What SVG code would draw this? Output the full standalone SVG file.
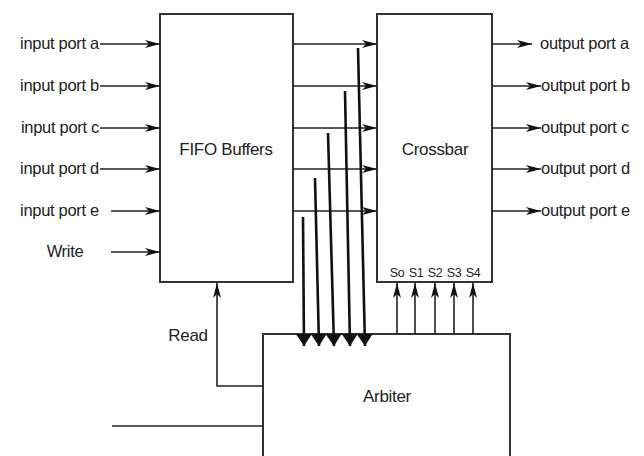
<svg xmlns="http://www.w3.org/2000/svg" width="644" height="456" viewBox="0 0 644 456">
  <style>
    .box { fill: #fff; stroke: #333; stroke-width: 2; }
    .ln { fill: none; stroke: #222; stroke-width: 1.6; }
    .bus { fill: none; stroke: #111; stroke-width: 2.6; }
    .t { font-family: "Liberation Sans", Arial, sans-serif; fill: #222; }
    .lbl { font-size: 16.5px; letter-spacing: -0.3px; }
    .big { font-size: 17px; letter-spacing: -0.3px; }
    .sm { font-size: 12.5px; letter-spacing: -0.5px; }
  </style>
  <defs>
    <marker id="arr" markerUnits="userSpaceOnUse" markerWidth="17" markerHeight="10" refX="15" refY="4.5" orient="auto" viewBox="0 0 17 9">
      <path d="M0,0.5 L15,4.5 L0,8.5 L4,4.5 z" fill="#111"/>
    </marker>
    <marker id="tri" markerUnits="userSpaceOnUse" markerWidth="12" markerHeight="16" refX="12" refY="8" orient="auto" viewBox="0 0 12 16">
      <path d="M0,0 L12,8 L0,16 z" fill="#111"/>
    </marker>
  </defs>

  <g id="arbiter">
    <rect class="box" x="263" y="334" width="247" height="140"/>
    <text class="t big" x="387" y="402" text-anchor="middle">Arbiter</text>
  </g>

  <g id="fifo">
    <rect class="box" x="160" y="14" width="133" height="268"/>
    <text class="t big" x="226" y="155" text-anchor="middle">FIFO Buffers</text>
  </g>

  <g id="crossbar">
    <rect class="box" x="377" y="14" width="115" height="268"/>
    <text class="t big" x="435" y="155" text-anchor="middle">Crossbar</text>
    <text class="t sm" x="397" y="277" text-anchor="middle">So</text>
    <text class="t sm" x="416" y="277" text-anchor="middle">S1</text>
    <text class="t sm" x="435" y="277" text-anchor="middle">S2</text>
    <text class="t sm" x="454" y="277" text-anchor="middle">S3</text>
    <text class="t sm" x="473" y="277" text-anchor="middle">S4</text>
  </g>

  <g id="inputs">
    <text class="t lbl" x="99" y="49" text-anchor="end">input port a</text>
    <text class="t lbl" x="99" y="91" text-anchor="end">input port b</text>
    <text class="t lbl" x="99" y="133" text-anchor="end">input port c</text>
    <text class="t lbl" x="99" y="174" text-anchor="end">input port d</text>
    <text class="t lbl" x="99" y="216" text-anchor="end">input port e</text>
    <text class="t lbl" x="65" y="257" text-anchor="middle">Write</text>
  </g>

  <g id="outputs">
    <text class="t lbl" x="540" y="49">output port a</text>
    <text class="t lbl" x="541" y="91">output port b</text>
    <text class="t lbl" x="541" y="133">output port c</text>
    <text class="t lbl" x="541" y="174">output port d</text>
    <text class="t lbl" x="541" y="216">output port e</text>
  </g>

  <g id="read-label">
    <text class="t big" x="188" y="341" text-anchor="middle">Read</text>
  </g>

  <g id="connectors">
    <line class="ln" x1="100" y1="44" x2="160" y2="44" marker-end="url(#arr)"/>
    <line class="ln" x1="100" y1="86" x2="160" y2="86" marker-end="url(#arr)"/>
    <line class="ln" x1="100" y1="128" x2="160" y2="128" marker-end="url(#arr)"/>
    <line class="ln" x1="100" y1="169" x2="160" y2="169" marker-end="url(#arr)"/>
    <line class="ln" x1="111" y1="211" x2="160" y2="211" marker-end="url(#arr)"/>
    <line class="ln" x1="111" y1="252" x2="160" y2="252" marker-end="url(#arr)"/>
    <line class="ln" x1="293" y1="44" x2="377" y2="44" marker-end="url(#arr)"/>
    <line class="ln" x1="293" y1="86" x2="377" y2="86" marker-end="url(#arr)"/>
    <line class="ln" x1="293" y1="128" x2="377" y2="128" marker-end="url(#arr)"/>
    <line class="ln" x1="293" y1="169" x2="377" y2="169" marker-end="url(#arr)"/>
    <line class="ln" x1="293" y1="211" x2="377" y2="211" marker-end="url(#arr)"/>
    <line class="ln" x1="492" y1="44" x2="532" y2="44" marker-end="url(#arr)"/>
    <line class="ln" x1="492" y1="86" x2="541" y2="86" marker-end="url(#arr)"/>
    <line class="ln" x1="492" y1="128" x2="541" y2="128" marker-end="url(#arr)"/>
    <line class="ln" x1="492" y1="169" x2="541" y2="169" marker-end="url(#arr)"/>
    <line class="ln" x1="492" y1="211" x2="541" y2="211" marker-end="url(#arr)"/>
    <line class="bus" x1="303" y1="217" x2="304" y2="346" marker-end="url(#tri)"/>
    <line class="bus" x1="315" y1="178" x2="319" y2="346" marker-end="url(#tri)"/>
    <line class="bus" x1="328" y1="133" x2="334" y2="346" marker-end="url(#tri)"/>
    <line class="bus" x1="345" y1="91" x2="350" y2="346" marker-end="url(#tri)"/>
    <line class="bus" x1="358" y1="48" x2="365" y2="346" marker-end="url(#tri)"/>
    <line class="ln" x1="397" y1="334" x2="397" y2="283" marker-end="url(#arr)"/>
    <line class="ln" x1="415" y1="334" x2="415" y2="283" marker-end="url(#arr)"/>
    <line class="ln" x1="435" y1="334" x2="435" y2="283" marker-end="url(#arr)"/>
    <line class="ln" x1="454" y1="334" x2="454" y2="283" marker-end="url(#arr)"/>
    <line class="ln" x1="473" y1="334" x2="473" y2="283" marker-end="url(#arr)"/>
    <polyline class="ln" points="263,386 217,386 217,283" marker-end="url(#arr)"/>
    <line class="ln" x1="112" y1="426" x2="263" y2="426"/>
  </g>
</svg>
